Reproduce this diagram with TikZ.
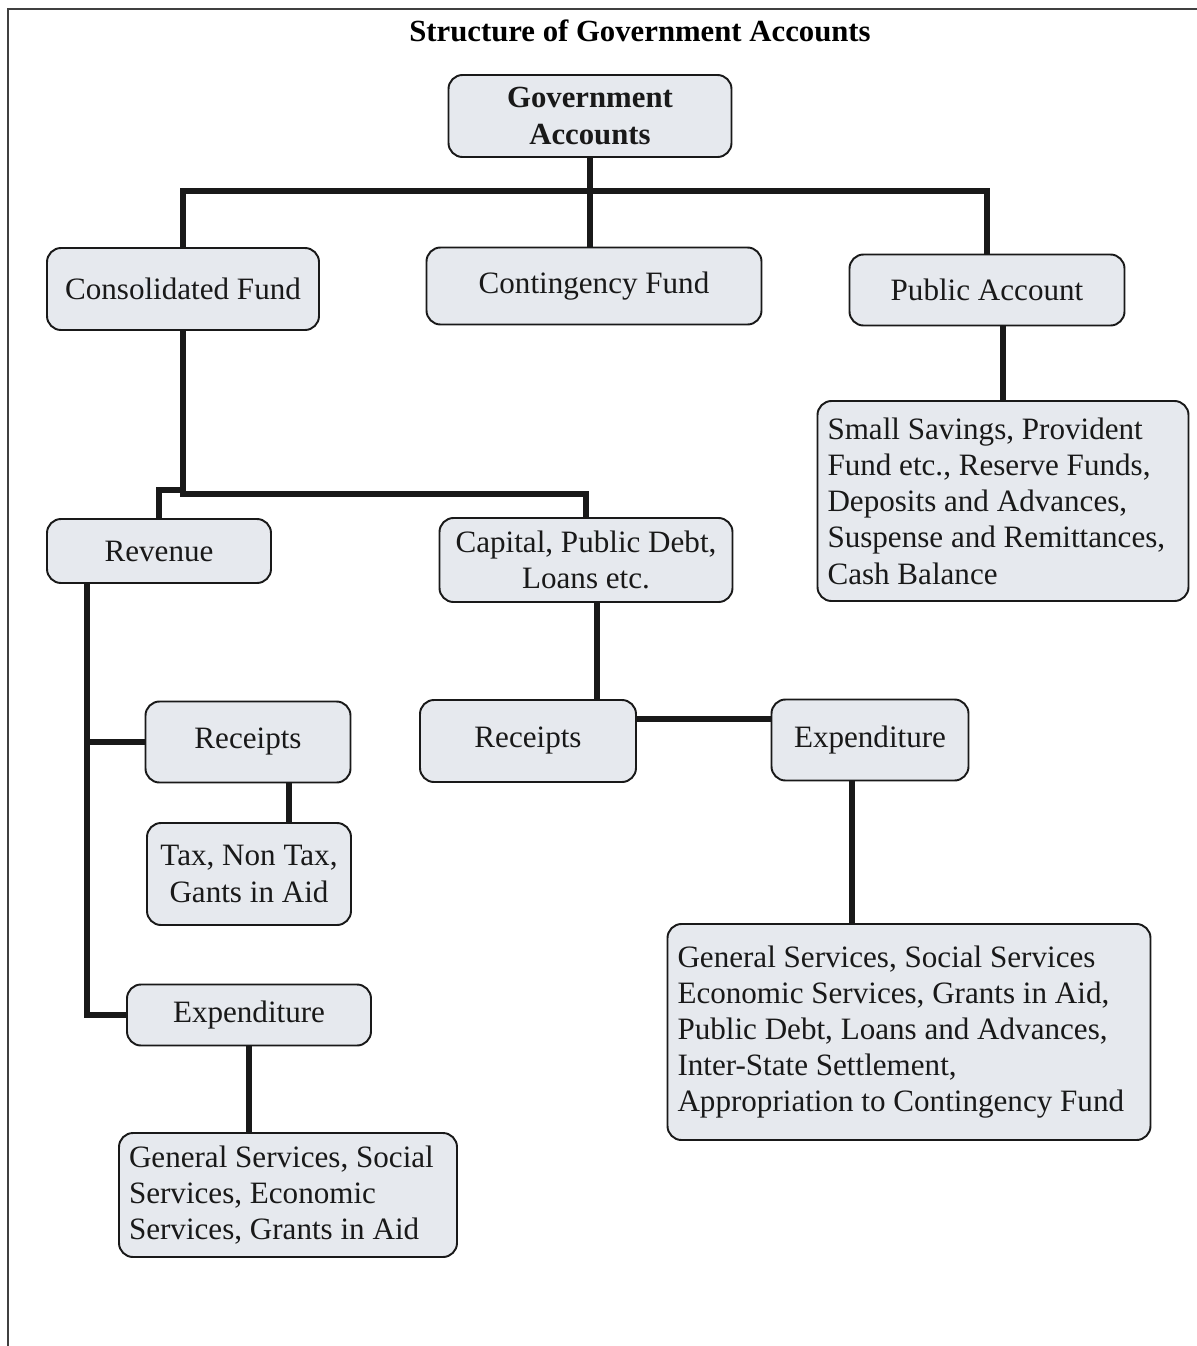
\documentclass[tikz,border=0pt]{standalone}
\usepackage{fontspec}
\setmainfont{Liberation Serif}
\usepackage{xcolor}
\usepackage{tikz}
\usetikzlibrary{arrows.meta,positioning,calc}
\definecolor{boxfill}{HTML}{E6E9EE}

\begin{document}
\begin{tikzpicture}[x=0.02cm,y=-0.02cm,
    acct/.style={draw=black!90,line width=1.1pt,fill=boxfill,rounded corners=8pt,
      font=\fontsize{17.7}{20.6}\selectfont,align=center,inner sep=3pt,text=black!90},
    boxsize/.style 2 args={minimum width=#1*0.02cm,minimum height=#2*0.02cm},
    listbox/.style={align=flush left,inner xsep=10*0.02cm,text width=#1*0.02cm-20*0.02cm},
    link/.style={line width=3.2pt,black!90}]
  \useasboundingbox (0,0) rectangle (1197,1346);
  % frame
  \draw[line width=1.2pt,black!75] (8,1346) -- (8,9) -- (1197,9);
  \node[font=\fontsize{17.5}{20.6}\selectfont\bfseries] (title) at (640,31)
    {Structure of Government Accounts};

  % top level
  \node[acct,boxsize={283}{82},font=\fontsize{17.5}{20.6}\selectfont\bfseries] (gov) at (590,116)
    {Government\\Accounts};
  \node[acct,boxsize={272}{82}] (consol) at (183,289) {Consolidated Fund};
  \node[acct,boxsize={335}{77}] (conting) at (594,286) {Contingency Fund};
  \node[acct,boxsize={275}{71}] (pubacc) at (987,290) {Public Account};
  \node[acct,boxsize={371}{200},listbox=371] (pubitems) at (1003,501)
    {Small Savings, Provident\\Fund etc., Reserve Funds,\\Deposits and Advances,\\
     Suspense and Remittances,\\Cash Balance};

  % consolidated fund
  \node[acct,boxsize={224}{64}] (revenue) at (159,551) {Revenue};
  \node[acct,boxsize={293}{84}] (capital) at (586,560) {Capital, Public Debt,\\Loans etc.};
  \node[acct,boxsize={205}{81}] (revrec) at (248,742) {Receipts};
  \node[acct,boxsize={204}{102}] (revtax) at (249,874) {Tax, Non Tax,\\Gants in Aid};
  \node[acct,boxsize={244}{61}] (revexp) at (249,1015) {Expenditure};
  \node[acct,boxsize={338}{124},listbox=338] (revitems) at (288,1195)
    {General Services, Social\\Services, Economic\\Services, Grants in Aid};
  \node[acct,boxsize={216}{82}] (caprec) at (528,741) {Receipts};
  \node[acct,boxsize={197}{81}] (capexp) at (870,740) {Expenditure};
  \node[acct,boxsize={483}{216},listbox=483] (capitems) at (909,1032)
    {General Services, Social Services\\Economic Services, Grants in Aid,\\
     Public Debt, Loans and Advances,\\Inter-State Settlement,\\
     Appropriation to Contingency Fund};

  % connectors
  \coordinate (bar) at (590,191);
  \coordinate (split) at (183,494);
  \coordinate (revtop) at (183,490);
  \coordinate (spine) at (87,0);
  \coordinate (taxline) at (289,0);
  \coordinate (capline) at (597,0);
  \coordinate (recexp) at (0,719);
  \coordinate (expline) at (852,0);
  \draw[link] (gov.south) -- (bar);
  \draw[link] (consol.north) |- (bar) -| (pubacc.north);
  \draw[link] (bar) -- (bar |- conting.north);
  \draw[link] (pubacc.south -| pubitems.north) -- (pubitems.north);
  \draw[link] (consol.south) -- (split) -| (capital.north);
  \draw[link] (revtop) -| (revenue.north);
  \draw[link] (spine |- revenue.south) |- (revexp.west);
  \draw[link] (spine |- revrec.west) -- (revrec.west);
  \draw[link] (taxline |- revrec.south) -- (taxline |- revtax.north);
  \draw[link] (revexp.south) -- (revexp.south |- revitems.north);
  \draw[link] (capline |- capital.south) -- (capline |- caprec.north);
  \draw[link] (caprec.east |- recexp) -- (capexp.west |- recexp);
  \draw[link] (expline |- capexp.south) -- (expline |- capitems.north);
\end{tikzpicture}
\end{document}
